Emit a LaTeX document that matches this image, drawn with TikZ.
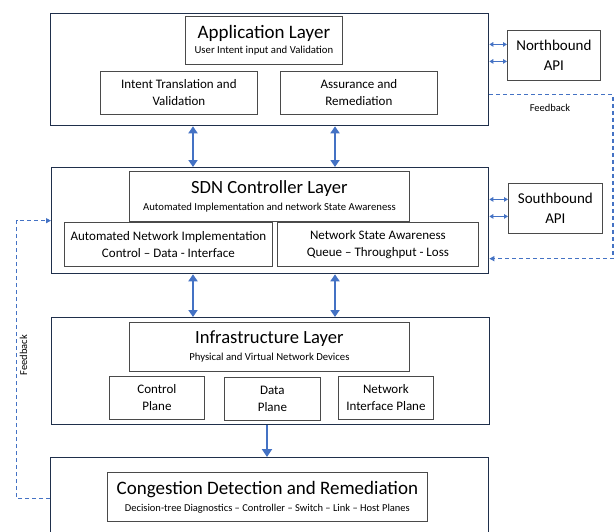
\documentclass[tikz,border=0pt]{standalone}
\usepackage{fontspec}
\setmainfont{Carlito}
\usetikzlibrary{arrows.meta,positioning}
\definecolor{navy}{HTML}{1F2F4B}
\definecolor{boxgray}{HTML}{4A4A4A}
\definecolor{flow}{HTML}{4472C4}
\newcommand{\fs}[2]{\fontsize{#1}{#2}\selectfont}
\tikzset{
  layer/.style={draw=navy, line width=1.3pt, fill=white, anchor=north west, inner sep=0pt},
  inbox/.style={draw=boxgray, line width=0.8pt, fill=white, anchor=north west, inner sep=0pt, align=center, font=\fs{13}{17}},
  apibox/.style={draw=boxgray, line width=0.8pt, fill=white, anchor=north west, inner sep=0pt, align=center, font=\fs{15}{20}},
  bigflow/.style={draw=flow, line width=2.6pt, {Triangle[width=9pt,length=7pt]}-{Triangle[width=9pt,length=7pt]}},
  downflow/.style={draw=flow, line width=2.6pt, -{Triangle[width=10pt,length=8pt]}},
  apiflow/.style={draw=flow, line width=1.2pt, {Triangle[width=4.5pt,length=4pt]}-{Triangle[width=4.5pt,length=4pt]}},
  fb/.style={draw=flow, line width=1.1pt, dash pattern=on 4pt off 3pt},
  fbtip/.style={-{Triangle[width=5pt,length=5pt]}},
  fblabel/.style={font=\fs{10.5}{12}, inner sep=0pt},
}
\begin{document}
\begin{tikzpicture}[x=1pt,y=-1pt]
\useasboundingbox (0,0) rectangle (615,531);
\clip (0,0) rectangle (615,531);

% layer frames
\node[layer, minimum width=438pt, minimum height=112pt] (app) at (50,13) {};
\node[layer, minimum width=437pt, minimum height=106pt] (sdn) at (51,167) {};
\node[layer, minimum width=438pt, minimum height=107pt] (infra) at (51,317) {};
\node[layer, minimum width=438pt, minimum height=82pt] (cong) at (50,457) {};

% application layer content
\node[inbox, minimum width=157pt, minimum height=48pt] (apptitle) at (185,16)
  {{\fs{19}{21}Application Layer}\\[-2pt]{\fs{10.7}{12}User Intent input and Validation}};
\node[inbox, minimum width=157pt, minimum height=43pt] (intent) at (100,71)
  {Intent Translation and\\Validation};
\node[inbox, minimum width=157pt, minimum height=43pt] (assur) at (280,71)
  {Assurance and\\Remediation};

% controller layer content
\node[inbox, minimum width=280pt, minimum height=50pt] (sdntitle) at (129,171)
  {{\fs{18.6}{21}SDN Controller Layer}\\[0pt]{\fs{10.7}{12}Automated Implementation and network State Awareness}};
\node[inbox, minimum width=208pt, minimum height=44pt] (autonet) at (64,222)
  {Automated Network Implementation\\Control – Data - Interface};
\node[inbox, minimum width=201pt, minimum height=44pt] (state) at (277,222)
  {Network State Awareness\\Queue – Throughput - Loss};

% infrastructure layer content
\node[inbox, minimum width=280pt, minimum height=49pt] (infratitle) at (129,322)
  {{\fs{18.6}{21}Infrastructure Layer}\\[0pt]{\fs{10.7}{12}Physical and Virtual Network Devices}};
\node[inbox, minimum width=95pt, minimum height=43pt] (ctrl) at (109,376)
  {Control\\Plane};
\node[inbox, minimum width=96pt, minimum height=43pt] (data) at (224,377)
  {Data\\Plane};
\node[inbox, minimum width=95pt, minimum height=43pt] (nip) at (338,376)
  {Network\\Interface Plane};

% congestion layer content
\node[inbox, minimum width=320pt, minimum height=49pt] (congtitle) at (107,472)
  {{\fs{19}{21}Congestion Detection and Remediation}\\[0pt]{\fs{10.5}{12}Decision-tree Diagnostics – Controller – Switch – Link – Host Planes}};

% API boxes
\node[apibox, minimum width=93pt, minimum height=50pt] (nb) at (507,30) {Northbound\\API};
\node[apibox, minimum width=94pt, minimum height=50pt] (sb) at (508,183) {Southbound\\API};

% vertical flows between layers
\coordinate (colA) at (193,0);
\coordinate (colB) at (335,0);
\coordinate (colC) at (267,0);
\draw[bigflow] (colA |- app.south) -- (colA |- sdn.north);
\draw[bigflow] (colB |- app.south) -- (colB |- sdn.north);
\draw[bigflow] (colA |- sdn.south) -- (colA |- infra.north);
\draw[bigflow] (colB |- sdn.south) -- (colB |- infra.north);
\draw[downflow] (colC |- infra.south) -- (colC |- cong.north);

% API links
\coordinate (nb1) at ([yshift=11pt]nb.west);
\coordinate (nb2) at ([yshift=-6pt]nb.west);
\coordinate (sb1) at ([yshift=9pt]sb.west);
\coordinate (sb2) at ([yshift=-8pt]sb.west);
\draw[apiflow] (app.east |- nb1) -- (nb1);
\draw[apiflow] (app.east |- nb2) -- (nb2);
\draw[apiflow] (sdn.east |- sb1) -- (sb1);
\draw[apiflow] (sdn.east |- sb2) -- (sb2);

% feedback loops
\coordinate (fbR) at (613,0);
\coordinate (fbL) at (16.5,0);
\coordinate (appfb) at ([yshift=-25pt]app.east);
\coordinate (sdnfb) at ([yshift=-38pt]sdn.east);
\draw[fb, fbtip] (appfb) -- (appfb -| fbR) -- (sdnfb -| fbR) -- (sdnfb);
\draw[fb, fbtip] (cong.west) -- (cong.west -| fbL) -- (sdn.west -| fbL) -- (sdn.west);
\node[fblabel] (fbtext1) at (550,108) {Feedback};
\node[fblabel, rotate=90] (fbtext2) at (23.5,355) {Feedback};
\end{tikzpicture}
\end{document}
